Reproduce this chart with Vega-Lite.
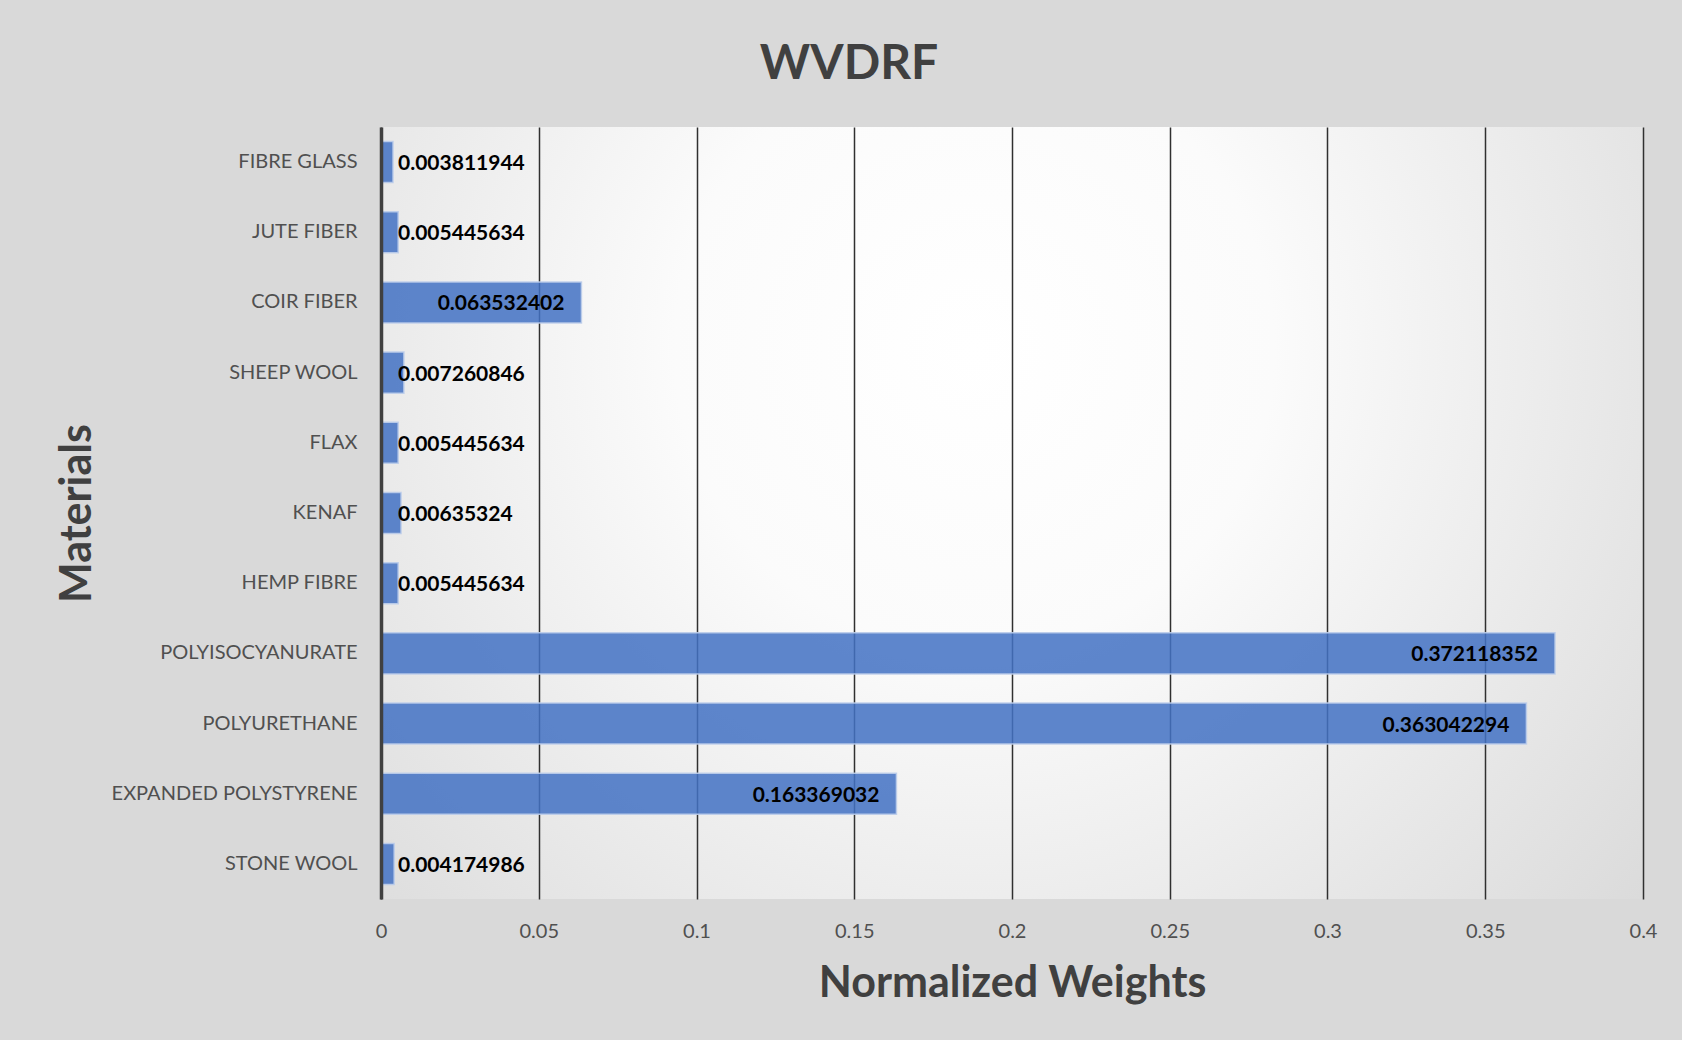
{
  "$schema": "https://vega.github.io/schema/vega-lite/v6.json",
  "width": 1262,
  "height": 772,
  "autosize": {"type": "none"},
  "padding": {"left": 381, "top": 127, "right": 39, "bottom": 141},
  "background": "#d9d9d9",
  "title": {
    "text": "WVDRF",
    "font": "Lato",
    "fontSize": 48,
    "fontWeight": "bold",
    "color": "#404040",
    "anchor": "middle",
    "frame": "group",
    "dx": -163,
    "offset": 0,
    "baseline": "alphabetic"
  },
  "data": {
    "values": [
      {"material": "FIBRE GLASS", "value": 0.003811944},
      {"material": "JUTE FIBER", "value": 0.005445634},
      {"material": "COIR FIBER", "value": 0.063532402},
      {"material": "SHEEP WOOL", "value": 0.007260846},
      {"material": "FLAX", "value": 0.005445634},
      {"material": "KENAF", "value": 0.00635324},
      {"material": "HEMP FIBRE", "value": 0.005445634},
      {"material": "POLYISOCYANURATE", "value": 0.372118352},
      {"material": "POLYURETHANE", "value": 0.363042294},
      {"material": "EXPANDED POLYSTYRENE", "value": 0.163369032},
      {"material": "STONE WOOL", "value": 0.004174986}
    ]
  },
  "encoding": {
    "y": {
      "field": "material",
      "type": "nominal",
      "sort": null,
      "scale": {"paddingInner": 0.415, "paddingOuter": 0.2075},
      "axis": {
        "title": "Materials",
        "titleFont": "Lato",
        "titleFontSize": 43,
        "titleFontWeight": "bold",
        "titleColor": "#404040",
        "titleX": -291,
        "titleY": 386,
        "titleAngle": 270,
        "titleBaseline": "alphabetic",
        "titleAlign": "center",
        "labelFont": "Lato",
        "labelFontSize": 20,
        "labelColor": "#505050",
        "labelPadding": 24,
        "labelLimit": 0,
        "ticks": false,
        "tickSize": 0,
        "domain": true,
        "domainColor": "#404040",
        "domainWidth": 3.5,
        "grid": false,
        "zindex": 1
      }
    }
  },
  "layer": [
    {
      "mark": {
        "type": "bar",
        "color": "#4472c4",
        "fillOpacity": 0.86,
        "stroke": "#bccdea",
        "strokeWidth": 1.5,
        "strokeOpacity": 0.9
      },
      "encoding": {
        "x": {
          "field": "value",
          "type": "quantitative",
          "scale": {"domain": [0, 0.4], "nice": false, "zero": true},
          "axis": {
            "title": "Normalized Weights",
            "titleFont": "Lato",
            "titleFontSize": 43,
            "titleFontWeight": "bold",
            "titleColor": "#404040",
            "titleX": 631,
            "titleY": 97,
            "titleBaseline": "alphabetic",
            "titleAlign": "center",
            "values": [0, 0.05, 0.1, 0.15, 0.2, 0.25, 0.3, 0.35, 0.4],
            "format": "~g",
            "labelFont": "Lato",
            "labelFontSize": 20,
            "labelColor": "#505050",
            "labelPadding": 22,
            "labelFlush": false,
            "ticks": false,
            "tickSize": 0,
            "domain": false,
            "grid": true,
            "gridColor": "#303030",
            "gridWidth": 1.5
          }
        }
      }
    },
    {
      "transform": [{"filter": "datum.value < 0.05"}],
      "mark": {
        "type": "text",
        "align": "left",
        "baseline": "middle",
        "dx": 17,
        "dy": 2,
        "font": "Lato",
        "fontSize": 21,
        "fontWeight": "bold",
        "color": "#000000"
      },
      "encoding": {
        "x": {"datum": 0, "type": "quantitative"},
        "text": {"field": "value", "type": "nominal"}
      }
    },
    {
      "transform": [{"filter": "datum.value >= 0.05"}],
      "mark": {
        "type": "text",
        "align": "right",
        "baseline": "middle",
        "dx": -17,
        "dy": 2,
        "font": "Lato",
        "fontSize": 21,
        "fontWeight": "bold",
        "color": "#000000"
      },
      "encoding": {
        "x": {"field": "value", "type": "quantitative"},
        "text": {"field": "value", "type": "nominal"}
      }
    }
  ],
  "config": {
    "view": {
      "stroke": null,
      "fill": {
        "gradient": "radial",
        "x1": 0.47, "y1": 0.37, "r1": 0,
        "x2": 0.47, "y2": 0.37, "r2": 0.95,
        "stops": [
          {"offset": 0, "color": "#ffffff"},
          {"offset": 0.25, "color": "#fbfbfb"},
          {"offset": 1, "color": "#c8c8c8"}
        ]
      }
    }
  }
}
